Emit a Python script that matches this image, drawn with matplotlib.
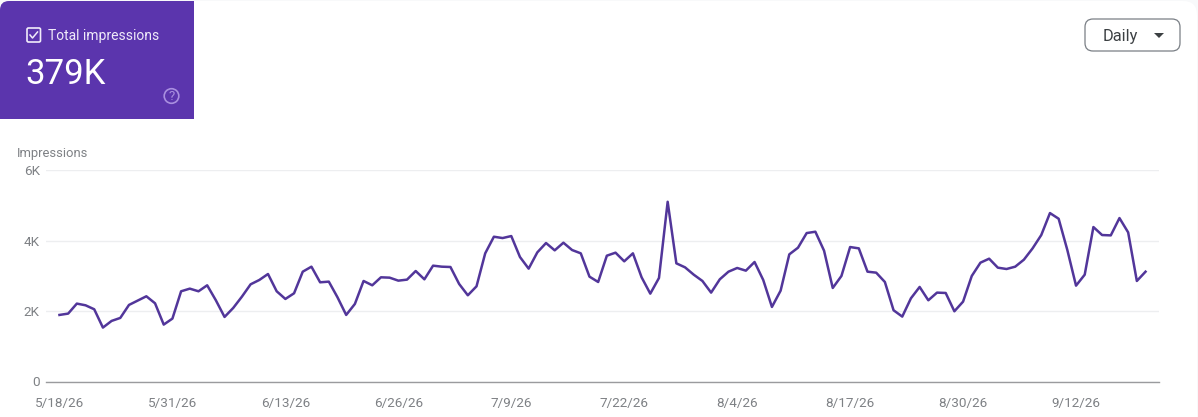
import matplotlib
matplotlib.use('Agg')
import matplotlib.pyplot as plt
from matplotlib.patches import FancyBboxPatch, Rectangle, Circle, Polygon

plt.rcParams['font.family'] = ['Roboto', 'DejaVu Sans']

# daily impressions (5/18/26 onwards)
impressions = [
    1891, 1929, 2213, 2165, 2052, 1532, 1721, 1806, 2175, 2298,
    2421, 2222, 1617, 1787, 2563, 2638, 2563, 2733, 2307, 1834,
    2090, 2411, 2761, 2884, 3054, 2563, 2345, 2506, 3120, 3262,
    2818, 2837, 2392, 1891, 2203, 2856, 2733, 2960, 2950, 2865,
    2894, 3139, 2903, 3291, 3262, 3253, 2771, 2449, 2704, 3641,
    4113, 4075, 4132, 3537, 3206, 3669, 3934, 3726, 3943, 3735,
    3641, 2979, 2827, 3574, 3660, 3414, 3641, 2960, 2496, 2941,
    5106, 3357, 3243, 3035, 2856, 2525, 2903, 3120, 3225, 3149,
    3395, 2884, 2118, 2581, 3612, 3801, 4217, 4255, 3716, 2657,
    2998, 3820, 3782, 3120, 3092, 2827, 2024, 1844, 2364, 2686,
    2307, 2525, 2515, 1995, 2269, 2998, 3376, 3489, 3234, 3196,
    3262, 3461, 3782, 4161, 4785, 4624, 3735, 2723, 3035, 4388,
    4161, 4151, 4643, 4236, 2856, 3120,
]
date_labels = ['5/18/26', '5/31/26', '6/13/26', '6/26/26', '7/9/26',
               '7/22/26', '8/4/26', '8/17/26', '8/30/26', '9/12/26']
date_positions = [0, 13, 26, 39, 52, 65, 78, 91, 104, 117]
y_ticks = [0, 2000, 4000, 6000]
y_labels = ['0', '2K', '4K', '6K']

W, H = 1198, 417
PURPLE = '#5B35AD'
LINE = '#52369A'
GREY = '#7E8185'

fig = plt.figure(figsize=(W / 100, H / 100), dpi=100, facecolor='#F8F9FA')

# overlay in pixel coordinates for the card and the dropdown
ui = fig.add_axes([0, 0, 1, 1], zorder=0)
ui.set_xlim(0, W)
ui.set_ylim(H, 0)
ui.axis('off')

ui.add_patch(FancyBboxPatch((0, 1), W - 1, H + 30, boxstyle='round,pad=0,rounding_size=14',
                            fc='white', ec='none'))

# metric card, rounded only at the top left
ui.add_patch(FancyBboxPatch((0, 1), 194, 140, boxstyle='round,pad=0,rounding_size=9',
                            fc=PURPLE, ec='none'))
ui.add_patch(Rectangle((100, 1), 94, 117.5, fc=PURPLE, ec='none'))
ui.add_patch(Rectangle((0, 118.5), 200, 30, fc='white', ec='none'))

ui.add_patch(FancyBboxPatch((27, 28), 13.5, 14, boxstyle='round,pad=0,rounding_size=1.5',
                            fc='none', ec='#F1ECFA', lw=1.2))
ui.plot([30, 32.5, 37.5], [35, 38, 32], color='#F1ECFA', lw=1.1)
ui.text(48, 36, 'Total impressions', color='#EFEAF9', fontsize=10, va='center', ha='left')
ui.text(25.5, 74, '379K', color='white', fontsize=25, va='center', ha='left')

ui.add_patch(Circle((171.5, 96), 7.3, fc='none', ec='#A98FE0', lw=1.2))
ui.text(171.5, 96.5, '?', color='#A98FE0', fontsize=9.5, va='center', ha='center')

# dropdown
ui.add_patch(FancyBboxPatch((1085, 19), 95, 32, boxstyle='round,pad=0,rounding_size=8',
                            fc='white', ec='#7A7F85', lw=0.9))
ui.text(1103, 36, 'Daily', color='#3C4043', fontsize=11.8, va='center', ha='left')
ui.add_patch(Polygon([(1154, 33), (1164, 33), (1159, 38)], fc='#3C4043', ec='none'))

ui.text(17, 153, 'Impressions', color=GREY, fontsize=9.4, va='center', ha='left')

# chart
left, right = 46, 1159
top, bottom = 170.3, 381.5
ax = fig.add_axes([left / W, 1 - bottom / H, (right - left) / W, (bottom - top) / H], zorder=1)
ax.patch.set_alpha(0)

days = list(range(len(impressions)))
ax.plot(days, impressions, color=LINE, linewidth=1.8, solid_joinstyle='round', clip_on=False)

ax.set_xlim(-1.55, 126.55)
ax.set_ylim(0, 6000)
ax.set_xticks(date_positions)
ax.set_xticklabels(date_labels)
ax.set_yticks(y_ticks)
ax.set_yticklabels(y_labels)
ax.tick_params(axis='x', length=0, pad=11.5, labelsize=9.7, labelcolor=GREY)
ax.tick_params(axis='y', length=0, pad=4.5, labelsize=9.7, labelcolor=GREY)
ax.grid(axis='y', color='#EDEEF0', linewidth=1)
ax.set_axisbelow(True)
for side in ['top', 'left', 'right']:
    ax.spines[side].set_visible(False)
ax.spines['bottom'].set_color('#9A9B9E')
ax.spines['bottom'].set_linewidth(1)

fig.savefig('out.png', dpi=100, facecolor=fig.get_facecolor())
